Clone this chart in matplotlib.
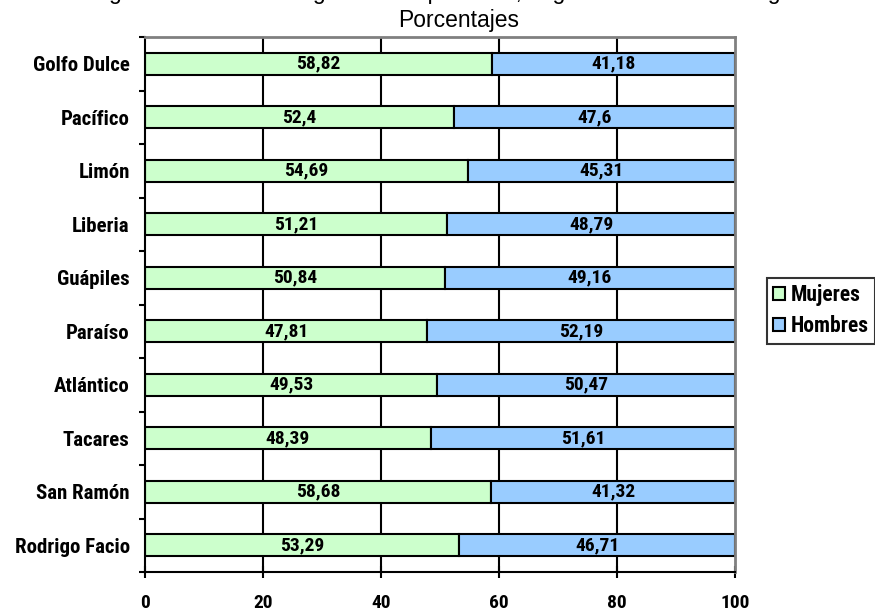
import matplotlib
matplotlib.use("Agg")
import matplotlib.pyplot as plt
from matplotlib import font_manager
import numpy as np

sedes = ["Rodrigo Facio", "San Ramón", "Tacares", "Atlántico", "Paraíso",
         "Guápiles", "Liberia", "Limón", "Pacífico", "Golfo Dulce"]
mujeres = [53.29, 58.68, 48.39, 49.53, 47.81, 50.84, 51.21, 54.69, 52.4, 58.82]
hombres = [46.71, 41.32, 51.61, 50.47, 52.19, 49.16, 48.79, 45.31, 47.6, 41.18]
mujeres_lbl = ["53,29", "58,68", "48,39", "49,53", "47,81", "50,84", "51,21", "54,69", "52,4", "58,82"]
hombres_lbl = ["46,71", "41,32", "51,61", "50,47", "52,19", "49,16", "48,79", "45,31", "47,6", "41,18"]
xticks = [0, 20, 40, 60, 80, 100]

names = sorted({f.name for f in font_manager.fontManager.ttflist})
narrow = None
for cand in ["Liberation Sans Narrow", "Arial Narrow", "Roboto Condensed",
             "DejaVu Sans Condensed", "Open Sans Condensed"]:
    if cand in names:
        narrow = cand
        break
if narrow is None:
    cands = [n for n in names if "Narrow" in n or "Condensed" in n]
    narrow = cands[0] if cands else "DejaVu Sans"
regular = "Liberation Sans" if "Liberation Sans" in names else "DejaVu Sans"

fig = plt.figure(figsize=(8.75, 6.14), dpi=100)
ax = fig.add_axes([145/875, 1-572/614, 590/875, (572-37)/614])

y = np.arange(len(sedes))
h = 0.41
green = "#CCFFCC"
blue = "#99CCFF"

for xv in xticks[1:-1]:
    ax.axvline(xv, color="black", lw=1.5, zorder=1)

b1 = ax.barh(y, mujeres, height=h, color=green, edgecolor="black", lw=1.5, zorder=2, label="Mujeres")
b2 = ax.barh(y, hombres, left=mujeres, height=h, color=blue, edgecolor="black", lw=1.5, zorder=2, label="Hombres")

lab = dict(fontsize=14, fontweight="bold", family=narrow, fontstretch="condensed", zorder=3)
for i in range(len(sedes)):
    ax.text(mujeres[i]/2, y[i], mujeres_lbl[i], ha="center", va="center", **lab)
    ax.text(mujeres[i] + hombres[i]/2, y[i], hombres_lbl[i], ha="center", va="center", **lab)

ax.set_xlim(0, 100)
ax.set_ylim(-0.5, len(sedes) - 0.5)
ax.set_xticks(xticks)
ax.set_xticklabels([str(v) for v in xticks], fontsize=14, fontweight="bold", family=narrow,
                   fontstretch="condensed")
ax.tick_params(axis="x", direction="inout", length=9, width=1.5, pad=11.5)
ax.set_yticks(y)
ax.set_yticklabels(sedes, fontsize=15, fontweight="bold", family=narrow, fontstretch="condensed")
ax.tick_params(axis="y", which="major", length=0, pad=11)
ax.set_yticks(np.arange(-0.5, len(sedes), 1.0), minor=True)
ax.tick_params(axis="y", which="minor", direction="out", length=4.5, width=1.5)

ax.spines["left"].set_color("black")
ax.spines["left"].set_linewidth(1.5)
ax.spines["bottom"].set_color("black")
ax.spines["bottom"].set_linewidth(1.5)
ax.spines["top"].set_color("#808080")
ax.spines["top"].set_linewidth(2)
ax.spines["right"].set_color("#808080")
ax.spines["right"].set_linewidth(2)

fig.text(0.5246, 1+1/614, "Figura 5. Estudiantes graduados por sexo, según sede o recinto regional",
         ha="center", va="baseline", fontsize=16.5, family=regular)
fig.text(0.5246, 1-21/614, "Porcentajes", ha="center", va="center", fontsize=16.5, family=regular)

leg = fig.legend(handles=[b1, b2], labels=["Mujeres", "Hombres"],
                 loc="upper left", bbox_to_anchor=(767/875, 1-278/614),
                 frameon=True, fancybox=False, edgecolor="black",
                 prop={"family": narrow, "weight": "bold", "size": 15.5, "stretch": "condensed"},
                 handlelength=0.55, handleheight=0.55, handletextpad=0.25,
                 borderpad=0.3, labelspacing=0.4, borderaxespad=0)
leg.get_frame().set_linewidth(1.5)

fig.savefig("out.png", dpi=100)
